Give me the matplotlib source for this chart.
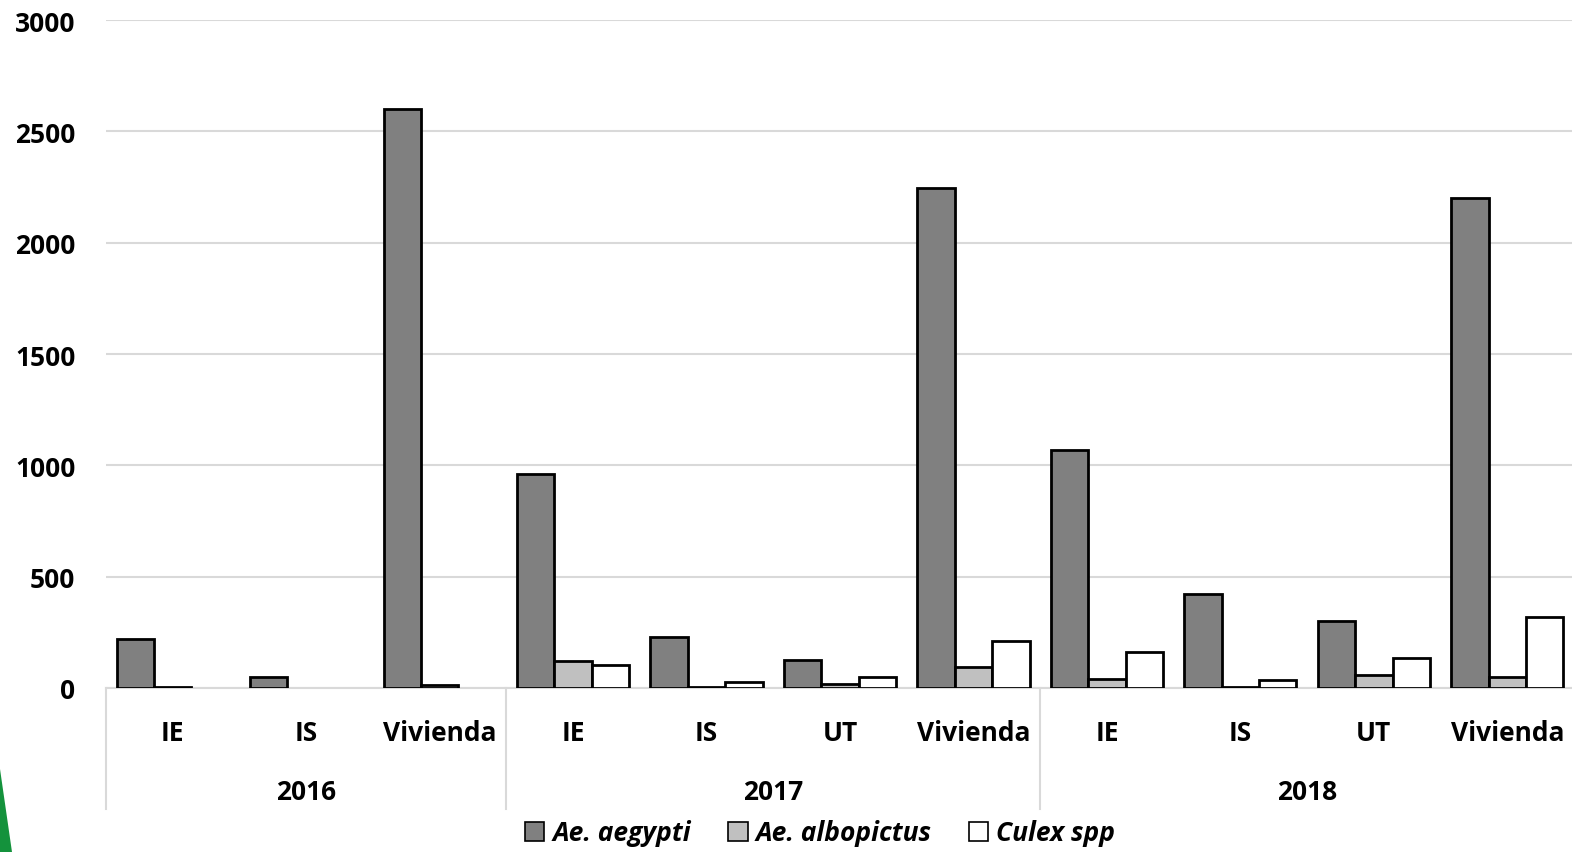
import matplotlib.pyplot as plt
import matplotlib.transforms as mtransforms
from matplotlib.patches import Polygon, Patch
import numpy as np

plt.rcParams['font.family'] = ['Open Sans', 'DejaVu Sans']

# Mosquito counts by breeding-site type and year
years = ['2016', '2017', '2018']
sites = [['IE', 'IS', 'Vivienda'],
         ['IE', 'IS', 'UT', 'Vivienda'],
         ['IE', 'IS', 'UT', 'Vivienda']]

species = ['Ae. aegypti', 'Ae. albopictus', 'Culex spp']
aegypti = [220, 50, 2600, 960, 230, 126, 2245, 1070, 422, 300, 2200]
albopictus = [5, 0, 15, 120, 5, 18, 95, 40, 5, 60, 48]
culex = [0, 0, 0, 105, 25, 50, 211, 162, 35, 135, 320]

colors = ['#808080', '#c0c0c0', '#ffffff']
yticks = [0, 500, 1000, 1500, 2000, 2500, 3000]

fig = plt.figure(figsize=(15.72, 8.53), dpi=100)
ax = fig.add_axes([106 / 1572, 164 / 853, 1468 / 1572, 668 / 853])

labels = [s for group in sites for s in group]
x = np.arange(len(labels))
width = 0.28
for i, (vals, col) in enumerate(zip([aegypti, albopictus, culex], colors)):
    vals = np.array(vals, dtype=float)
    vals[vals == 0] = np.nan  # empty counts get no bar at all
    ax.bar(x + (i - 1) * width, vals, width, color=col, edgecolor='black',
           linewidth=2, zorder=3)

ax.set_xlim(-0.5, len(labels) - 0.5)
ax.set_ylim(0, 3000)
ax.set_yticks(yticks)
ax.grid(axis='y', color='#d9d9d9', linewidth=1.5, zorder=0)
for side in ['top', 'right', 'left']:
    ax.spines[side].set_visible(False)
ax.spines['bottom'].set_color('#d9d9d9')
ax.spines['bottom'].set_linewidth(1.5)
ax.tick_params(axis='y', length=0, pad=22, labelsize=19)
ax.tick_params(axis='x', length=0, pad=22, labelsize=19)
ax.set_xticks(x)
ax.set_xticklabels(labels)
for lab in ax.get_xticklabels() + ax.get_yticklabels():
    lab.set_fontweight('bold')

# Year groups under the site labels, with separators
trans = mtransforms.blended_transform_factory(ax.transData, ax.transAxes)
start = 0
for year, group in zip(years, sites):
    left = start - 0.5
    right = start + len(group) - 0.5
    ax.plot([left, left], [0, -0.181], transform=trans, color='#d9d9d9',
            linewidth=1.5, clip_on=False)
    ax.text((left + right) / 2, -0.155, year, transform=trans, ha='center',
            va='center', fontsize=19, fontweight='bold')
    start += len(group)

handles = [Patch(facecolor=c, edgecolor='black', linewidth=1.2) for c in colors]
leg = fig.legend(handles, species, loc='center', bbox_to_anchor=(820 / 1572, 1 - 834 / 853),
                 ncol=3, frameon=False, handlelength=0.75, handleheight=0.75,
                 handletextpad=0.3, columnspacing=1.4, borderaxespad=0, borderpad=0,
                 prop={'size': 19, 'weight': 'bold', 'style': 'italic'})

# Green slide accent in the lower-left corner
fig.patches.append(Polygon([[0, 1 - 770 / 853], [12 / 1572, 0], [0, 0]],
                           closed=True, transform=fig.transFigure,
                           facecolor='#14923c', edgecolor='none'))

fig.savefig('out.png', dpi=100)
